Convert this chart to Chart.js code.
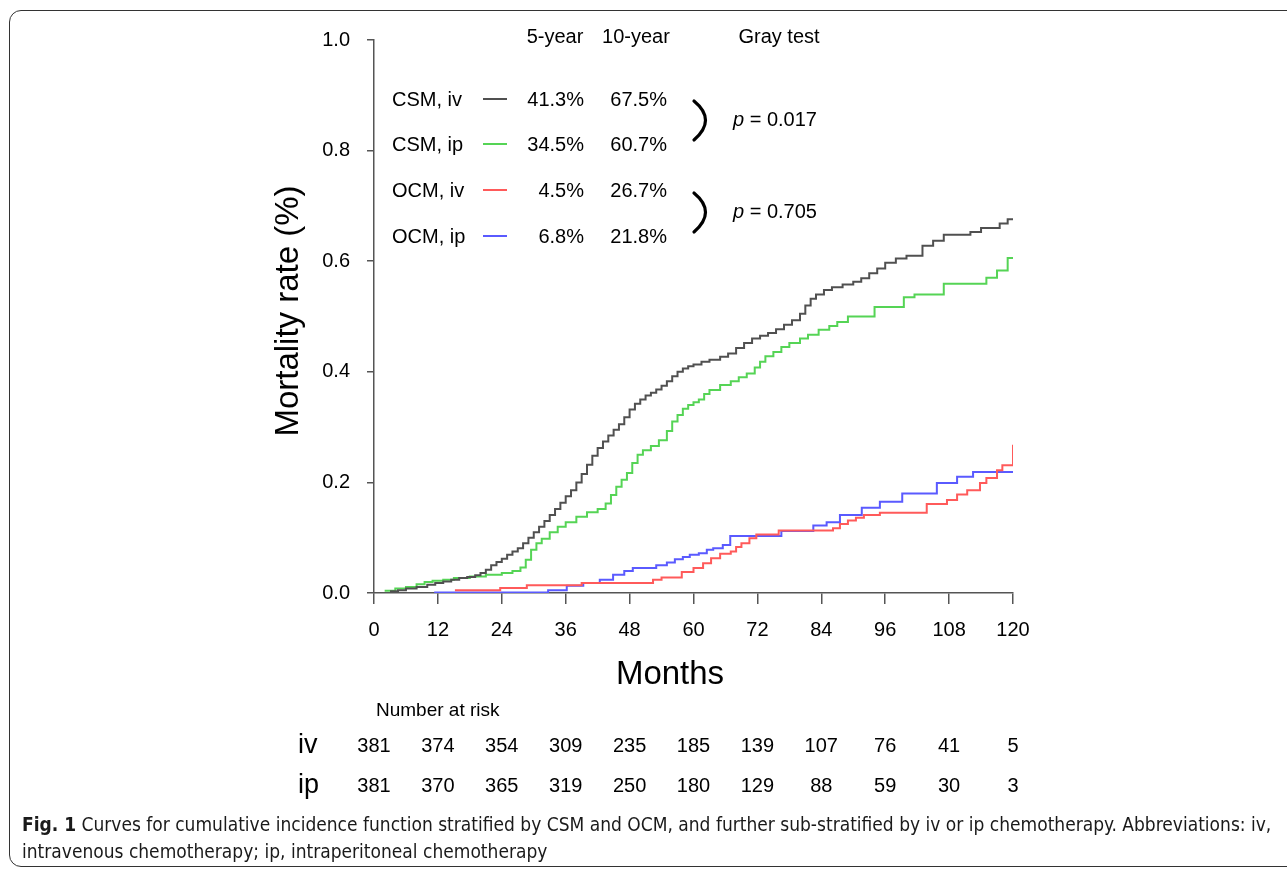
<!DOCTYPE html>
<html>
<head>
<meta charset="utf-8">
<script src="https://cdn.jsdelivr.net/npm/chart.js@4.4.1/dist/chart.umd.min.js"></script>
<style>
  html, body { margin: 0; padding: 0; background: #fff; width: 1287px; height: 870px; overflow: hidden; }
  #frame { position: absolute; left: 9px; top: 10px; width: 1330px; height: 855px;
           border: 1.5px solid #333; border-radius: 12px; }
  #chart { position: absolute; left: 0; top: 0; }
  #caption { position: absolute; left: 22px; top: 811px; color: #1a1a1a;
             font-family: "Liberation Sans Narrow", "DejaVu Sans Condensed", sans-serif;
             font-size: 19px; line-height: 27px; white-space: nowrap; }
  #caption b { font-weight: bold; }
</style>
</head>
<body>
<div id="frame"></div>
<canvas id="chart" width="1287" height="870"></canvas>
<div id="caption"><b>Fig. 1</b> Curves for cumulative incidence function stratified by CSM and OCM, and further sub-stratified by iv or ip chemotherapy. Abbreviations: iv,<br>intravenous chemotherapy; ip, intraperitoneal chemotherapy</div>
<script>
// ── data ────────────────────────────────────────────────────────────────
const xTicks = [0, 12, 24, 36, 48, 60, 72, 84, 96, 108, 120];
const yTicks = [0, 0.2, 0.4, 0.6, 0.8, 1.0];

const seriesNames = ['CSM, iv', 'CSM, ip', 'OCM, iv', 'OCM, ip'];
const fiveYear = ['41.3%', '34.5%', '4.5%', '6.8%'];
const tenYear = ['67.5%', '60.7%', '26.7%', '21.8%'];
const grayTestP = ['0.017', '0.705'];

const riskGroups = ['iv', 'ip'];
const riskIv = [381, 374, 354, 309, 235, 185, 139, 107, 76, 41, 5];
const riskIp = [381, 370, 365, 319, 250, 180, 129, 88, 59, 30, 3];

// step curves: event month / cumulative incidence after it
const csmIvT = [3, 4.5, 6, 8, 10, 11.5, 13, 14.5, 16, 17.5, 19, 20, 21, 22, 23, 24, 25, 26, 27, 28, 29, 30,
  31, 32, 33, 34, 35, 36, 37, 38, 39, 40, 41, 42, 43, 44, 45, 46, 47, 48, 49, 50, 51, 52, 53, 54, 55, 56,
  57, 58, 59, 60, 61.5, 63, 65, 66.5, 68, 69.5, 71, 72.5, 74, 75.5, 77, 78.5, 80, 81, 82, 83, 84.5, 86,
  88, 90, 91.5, 93, 94.5, 96, 98, 100, 103, 105, 107, 112, 114, 117.5, 119, 120];
const csmIvV = [0.003, 0.005, 0.008, 0.011, 0.015, 0.018, 0.021, 0.024, 0.027, 0.029, 0.032, 0.036, 0.042,
  0.05, 0.056, 0.062, 0.069, 0.075, 0.081, 0.09, 0.1, 0.11, 0.12, 0.13, 0.141, 0.152, 0.163, 0.175, 0.186,
  0.2, 0.215, 0.232, 0.248, 0.262, 0.274, 0.285, 0.295, 0.305, 0.318, 0.332, 0.342, 0.35, 0.357, 0.362,
  0.368, 0.375, 0.383, 0.392, 0.4, 0.406, 0.41, 0.413, 0.418, 0.422, 0.427, 0.433, 0.443, 0.452, 0.46,
  0.465, 0.47, 0.477, 0.485, 0.493, 0.505, 0.52, 0.532, 0.54, 0.548, 0.553, 0.558, 0.563, 0.569, 0.578,
  0.587, 0.597, 0.605, 0.61, 0.628, 0.637, 0.648, 0.653, 0.66, 0.668, 0.676, 0.676];

const csmIpT = [2, 4, 6, 8, 9.5, 11, 13, 15, 18, 21, 24, 26, 27.5, 28.5, 29.5, 30.5, 31.5, 33, 34.5, 36, 38,
  40, 42, 43.5, 44.5, 45.5, 46.5, 47.5, 48.5, 49.5, 50.5, 52, 53.5, 55, 56, 57, 58, 59, 60, 61, 62, 63,
  65, 67, 68.5, 70, 71.5, 72.5, 73.5, 75, 76.5, 78, 80, 81.5, 83.5, 85.5, 87, 89, 94, 99.5, 101.5, 107,
  115, 117, 119, 120];
const csmIpV = [0.004, 0.008, 0.011, 0.016, 0.02, 0.022, 0.024, 0.027, 0.03, 0.033, 0.036, 0.04, 0.046,
  0.06, 0.078, 0.09, 0.098, 0.11, 0.12, 0.128, 0.138, 0.146, 0.152, 0.162, 0.177, 0.192, 0.205, 0.217,
  0.235, 0.25, 0.258, 0.266, 0.276, 0.293, 0.31, 0.322, 0.333, 0.34, 0.345, 0.35, 0.36, 0.367, 0.376,
  0.383, 0.39, 0.397, 0.408, 0.418, 0.428, 0.436, 0.445, 0.452, 0.46, 0.467, 0.476, 0.483, 0.49, 0.5,
  0.517, 0.535, 0.54, 0.559, 0.57, 0.583, 0.606, 0.606];

const ocmIvT = [15.2, 23.7, 28.7, 39, 52.4, 54, 57.8, 60, 61.8, 63.3, 65, 67, 68, 69, 70.5, 71.8, 76, 86.2,
  87.5, 89, 90.5, 92, 95, 103.8, 107.6, 109.5, 111.4, 113.8, 115, 117, 118, 120];
const ocmIvV = [0.005, 0.009, 0.014, 0.018, 0.024, 0.028, 0.038, 0.045, 0.054, 0.063, 0.071, 0.075, 0.083,
  0.09, 0.099, 0.106, 0.113, 0.117, 0.125, 0.131, 0.136, 0.141, 0.145, 0.161, 0.168, 0.178, 0.186, 0.199,
  0.208, 0.222, 0.231, 0.268];

const ocmIpT = [11.3, 32.7, 36.2, 39.3, 42.4, 44.9, 47, 48.6, 53, 55, 56.5, 58, 59.3, 61, 62.5, 63.7,
  65.5, 66.9, 76.5, 82.5, 85, 87.5, 91.6, 95, 99.2, 105.7, 109.5, 112.5, 120];
const ocmIpV = [0.001, 0.005, 0.013, 0.018, 0.024, 0.033, 0.04, 0.045, 0.05, 0.055, 0.061, 0.065, 0.069,
  0.072, 0.078, 0.081, 0.087, 0.103, 0.112, 0.122, 0.128, 0.141, 0.154, 0.165, 0.18, 0.199, 0.21, 0.219,
  0.219];

const COLORS = {
  csmIv: '#505050',
  csmIp: '#55d455',
  ocmIv: '#ff5a5a',
  ocmIp: '#5a5aff',
  axis: '#555555',
  text: '#000000',
};
const FONT = '"Liberation Sans", Arial, sans-serif';

const toPoints = (t, v) => t.map((x, i) => ({ x, y: v[i] }));

function stepSet(label, t, v, color) {
  return {
    label,
    data: toPoints(t, v),
    borderColor: color,
    borderWidth: 2,
    stepped: true,
    pointRadius: 0,
    fill: false,
  };
}

// ── annotations: legend block, axis titles, risk table ─────────────────
const annotate = {
  id: 'annotate',
  afterDraw(chart) {
    const { ctx } = chart;
    const xs = chart.scales.x;
    const lineColors = [COLORS.csmIv, COLORS.csmIp, COLORS.ocmIv, COLORS.ocmIp];
    const rowY = [100, 145, 191, 237];

    ctx.save();
    ctx.fillStyle = COLORS.text;
    ctx.textBaseline = 'middle';

    // header
    ctx.font = `20px ${FONT}`;
    ctx.textAlign = 'center';
    ctx.fillText('5-year', 555, 37);
    ctx.fillText('10-year', 636, 37);
    ctx.fillText('Gray test', 779, 37);

    // rows
    seriesNames.forEach((name, i) => {
      ctx.textAlign = 'left';
      ctx.fillText(name, 392, rowY[i]);
      ctx.strokeStyle = lineColors[i];
      ctx.lineWidth = 2;
      ctx.beginPath();
      ctx.moveTo(483, rowY[i] - 1);
      ctx.lineTo(507, rowY[i] - 1);
      ctx.stroke();
      ctx.textAlign = 'right';
      ctx.fillText(fiveYear[i], 584, rowY[i]);
      ctx.fillText(tenYear[i], 667, rowY[i]);
    });

    // brackets + p values
    const brY = [120, 212];
    grayTestP.forEach((p, i) => {
      ctx.strokeStyle = '#000';
      ctx.lineWidth = 3.2;
      ctx.lineCap = 'round';
      ctx.beginPath();
      ctx.moveTo(694, brY[i] - 19);
      ctx.quadraticCurveTo(717, brY[i], 694, brY[i] + 20);
      ctx.stroke();
      ctx.textAlign = 'left';
      ctx.font = `italic 20px ${FONT}`;
      ctx.fillText('p', 733, brY[i]);
      const w = ctx.measureText('p').width;
      ctx.font = `20px ${FONT}`;
      ctx.fillText(' = ' + p, 733 + w, brY[i]);
    });

    // axis titles
    ctx.font = `33px ${FONT}`;
    ctx.textAlign = 'center';
    ctx.fillText('Months', 670, 675);
    ctx.save();
    ctx.translate(289, 311);
    ctx.rotate(-Math.PI / 2);
    ctx.fillText('Mortality rate (%)', 0, 0);
    ctx.restore();

    // number at risk
    ctx.font = `19px ${FONT}`;
    ctx.textAlign = 'left';
    ctx.fillText('Number at risk', 376, 711);
    const rows = [riskIv, riskIp];
    const riskY = [746, 786];
    rows.forEach((vals, r) => {
      ctx.font = `27px ${FONT}`;
      ctx.textAlign = 'left';
      ctx.fillText(riskGroups[r], 298, riskY[r]);
      ctx.font = `20px ${FONT}`;
      ctx.textAlign = 'center';
      vals.forEach((n, i) => ctx.fillText(String(n), xs.getPixelForValue(xTicks[i]), riskY[r]));
    });
    ctx.restore();
  },
};

// ── chart ───────────────────────────────────────────────────────────────
const ctx = document.getElementById('chart').getContext('2d');
new Chart(ctx, {
  type: 'line',
  data: {
    datasets: [
      stepSet('CSM, iv', csmIvT, csmIvV, COLORS.csmIv),
      stepSet('CSM, ip', csmIpT, csmIpV, COLORS.csmIp),
      stepSet('OCM, iv', ocmIvT, ocmIvV, COLORS.ocmIv),
      stepSet('OCM, ip', ocmIpT, ocmIpV, COLORS.ocmIp),
    ],
  },
  options: {
    responsive: false,
    animation: false,
    devicePixelRatio: 1,
    layout: { padding: { top: 40, right: 274, left: 0, bottom: 0 } },
    plugins: {
      legend: { display: false },
      tooltip: { enabled: false },
    },
    scales: {
      x: {
        type: 'linear',
        min: 0,
        max: 120,
        afterFit: (s) => { s.height = 277; },
        afterBuildTicks: (s) => { s.ticks = xTicks.map(v => ({ value: v })); },
        ticks: {
          color: COLORS.text,
          font: { family: FONT, size: 20 },
          padding: 14,
          maxRotation: 0,
        },
        grid: { drawOnChartArea: false, drawTicks: true, tickLength: 11, color: COLORS.axis, lineWidth: 1.5 },
        border: { display: true, color: COLORS.axis, width: 1.5 },
      },
      y: {
        type: 'linear',
        min: 0,
        max: 1,
        afterFit: (s) => { s.width = 374; },
        afterBuildTicks: (s) => { s.ticks = yTicks.map(v => ({ value: v })); },
        ticks: {
          color: COLORS.text,
          font: { family: FONT, size: 20 },
          padding: 17,
          callback: (v) => Number(v).toFixed(1),
        },
        grid: { drawOnChartArea: false, drawTicks: true, tickLength: 7, color: COLORS.axis, lineWidth: 1.5 },
        border: { display: true, color: COLORS.axis, width: 1.5 },
      },
    },
  },
  plugins: [annotate],
});
</script>
</body>
</html>
